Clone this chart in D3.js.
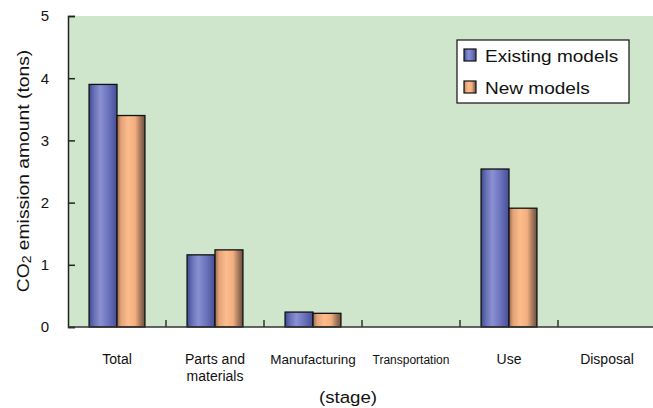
<!DOCTYPE html>
<html>
<head>
<meta charset="utf-8">
<script src="https://cdn.jsdelivr.net/npm/d3@7"></script>
<style>
  html, body { margin: 0; padding: 0; background: #fff; }
  svg { display: block; font-family: "Liberation Sans", Arial, sans-serif; }
</style>
</head>
<body>
<svg id="chart" width="653" height="408"></svg>
<script>
// Life-cycle stages and CO2 emissions per stage (tons)
const stages = ["Total", "Parts and materials", "Manufacturing", "Transportation", "Use", "Disposal"];
const stageLines = [["Total"], ["Parts and", "materials"], ["Manufacturing"], ["Transportation"], ["Use"], ["Disposal"]];
const seriesNames = ["Existing models", "New models"];
const existingModels = [3.9, 1.16, 0.24, 0, 2.54, 0];
const newModels = [3.4, 1.24, 0.22, 0, 1.91, 0];
const yTicks = [0, 1, 2, 3, 4, 5];

const svg = d3.select("#chart");
const W = 653, H = 408;
const plot = { left: 68, top: 16, right: 656, bottom: 327 };

const x = d3.scaleBand().domain(stages)
  .range([plot.left, plot.right]).paddingInner(0.43).paddingOuter(0.215);
const xs = d3.scaleBand().domain(seriesNames).range([0, x.bandwidth()]);
const y = d3.scaleLinear().domain([0, 5]).range([plot.bottom, plot.top]);

// Cylinder-like shading for the bars
const defs = svg.append("defs");
function grad(id, stops) {
  const g = defs.append("linearGradient").attr("id", id)
    .attr("x1", "0%").attr("x2", "100%").attr("y1", "0%").attr("y2", "0%");
  stops.forEach(([o, c]) => g.append("stop").attr("offset", o).attr("stop-color", c));
}
grad("gBlue", [["0%", "#3f4892"], ["18%", "#6870b8"], ["40%", "#8a90d0"], ["70%", "#6a72bc"], ["100%", "#464e98"]]);
grad("gOrange", [["0%", "#9a6a4c"], ["15%", "#e4a47a"], ["40%", "#fdbc8c"], ["65%", "#f2ae80"], ["85%", "#a0745a"], ["100%", "#6e5040"]]);
const fills = { "Existing models": "url(#gBlue)", "New models": "url(#gOrange)" };

// Plot background
svg.append("rect").attr("x", plot.left).attr("y", plot.top)
  .attr("width", W - plot.left).attr("height", plot.bottom - plot.top)
  .attr("fill", "#cfe5cc");

// Bars
const rows = stages.map((s, i) => ({ stage: s, values: [existingModels[i], newModels[i]] }));
const groups = svg.append("g").selectAll("g").data(rows).join("g")
  .attr("transform", d => `translate(${x(d.stage)},0)`);
groups.selectAll("rect")
  .data(d => d.values.map((v, j) => ({ name: seriesNames[j], v })).filter(e => e.v > 0))
  .join("rect")
  .attr("x", d => xs(d.name))
  .attr("y", d => y(d.v))
  .attr("width", xs.bandwidth())
  .attr("height", d => y(0) - y(d.v))
  .attr("fill", d => fills[d.name])
  .attr("stroke", "#111")
  .attr("stroke-width", 1.3);

// Y axis
const yAxis = svg.append("g").attr("transform", `translate(${plot.left},0)`)
  .call(d3.axisLeft(y).tickValues(yTicks).tickSize(-7).tickPadding(19).tickFormat(d3.format("d")));
yAxis.select(".domain").attr("stroke", "#222").attr("stroke-width", 1.5);
yAxis.selectAll(".tick line").attr("stroke", "#222").attr("stroke-width", 1.5);
yAxis.selectAll(".tick text").attr("font-size", 15).attr("fill", "#111")
  .attr("font-family", "Liberation Sans, Arial, sans-serif");

// X axis line with separator ticks between stages
const xAxisG = svg.append("g");
xAxisG.append("line").attr("x1", plot.left).attr("x2", W)
  .attr("y1", plot.bottom).attr("y2", plot.bottom)
  .attr("stroke", "#333").attr("stroke-width", 1.5);
const bounds = stages.slice(1).map(s => x(s) - x.step() * x.paddingInner() / 2);
xAxisG.selectAll("line.sep").data(bounds).join("line").attr("class", "sep")
  .attr("x1", d => d).attr("x2", d => d)
  .attr("y1", plot.bottom).attr("y2", plot.bottom - 7)
  .attr("stroke", "#333").attr("stroke-width", 1.5);

// Stage labels
stages.forEach((s, i) => {
  const cx = x(s) + x.bandwidth() / 2;
  const fs = s === "Transportation" ? 12 : (s === "Manufacturing" ? 13.5 : 14);
  const t = svg.append("text").attr("x", cx).attr("y", 364)
    .attr("text-anchor", "middle").attr("font-size", fs).attr("fill", "#111");
  stageLines[i].forEach((ln, k) => {
    t.append("tspan").attr("x", cx).attr("dy", k === 0 ? 0 : 17).text(ln);
  });
});

// Axis titles
svg.append("text").attr("transform", "translate(348,403) scale(1.1,1)")
  .attr("text-anchor", "middle").attr("font-size", 17).attr("fill", "#111").text("(stage)");

// Y title: slightly widened lettering
const yt = svg.append("text")
  .attr("transform", `translate(29,171) rotate(-90) scale(1.17,1)`)
  .attr("text-anchor", "middle").attr("font-size", 16.5).attr("fill", "#111");
yt.append("tspan").text("CO");
yt.append("tspan").attr("font-size", 12).attr("dy", 2).text("2");
yt.append("tspan").attr("dy", -2).text(" emission amount (tons)");

// Legend
const lg = svg.append("g").attr("transform", "translate(457,40)");
lg.append("rect").attr("width", 172).attr("height", 63)
  .attr("fill", "#fff").attr("stroke", "#111").attr("stroke-width", 1.2);
seriesNames.forEach((n, i) => {
  const row = lg.append("g").attr("transform", `translate(7,${9 + i * 32})`);
  row.append("rect").attr("width", 12).attr("height", 12)
    .attr("fill", fills[n]).attr("stroke", "#111").attr("stroke-width", 1.2);
  row.append("text").attr("transform", "translate(21,12.5) scale(1.12,1)")
    .attr("font-size", 17).attr("fill", "#111").text(n);
});
</script>
</body>
</html>
